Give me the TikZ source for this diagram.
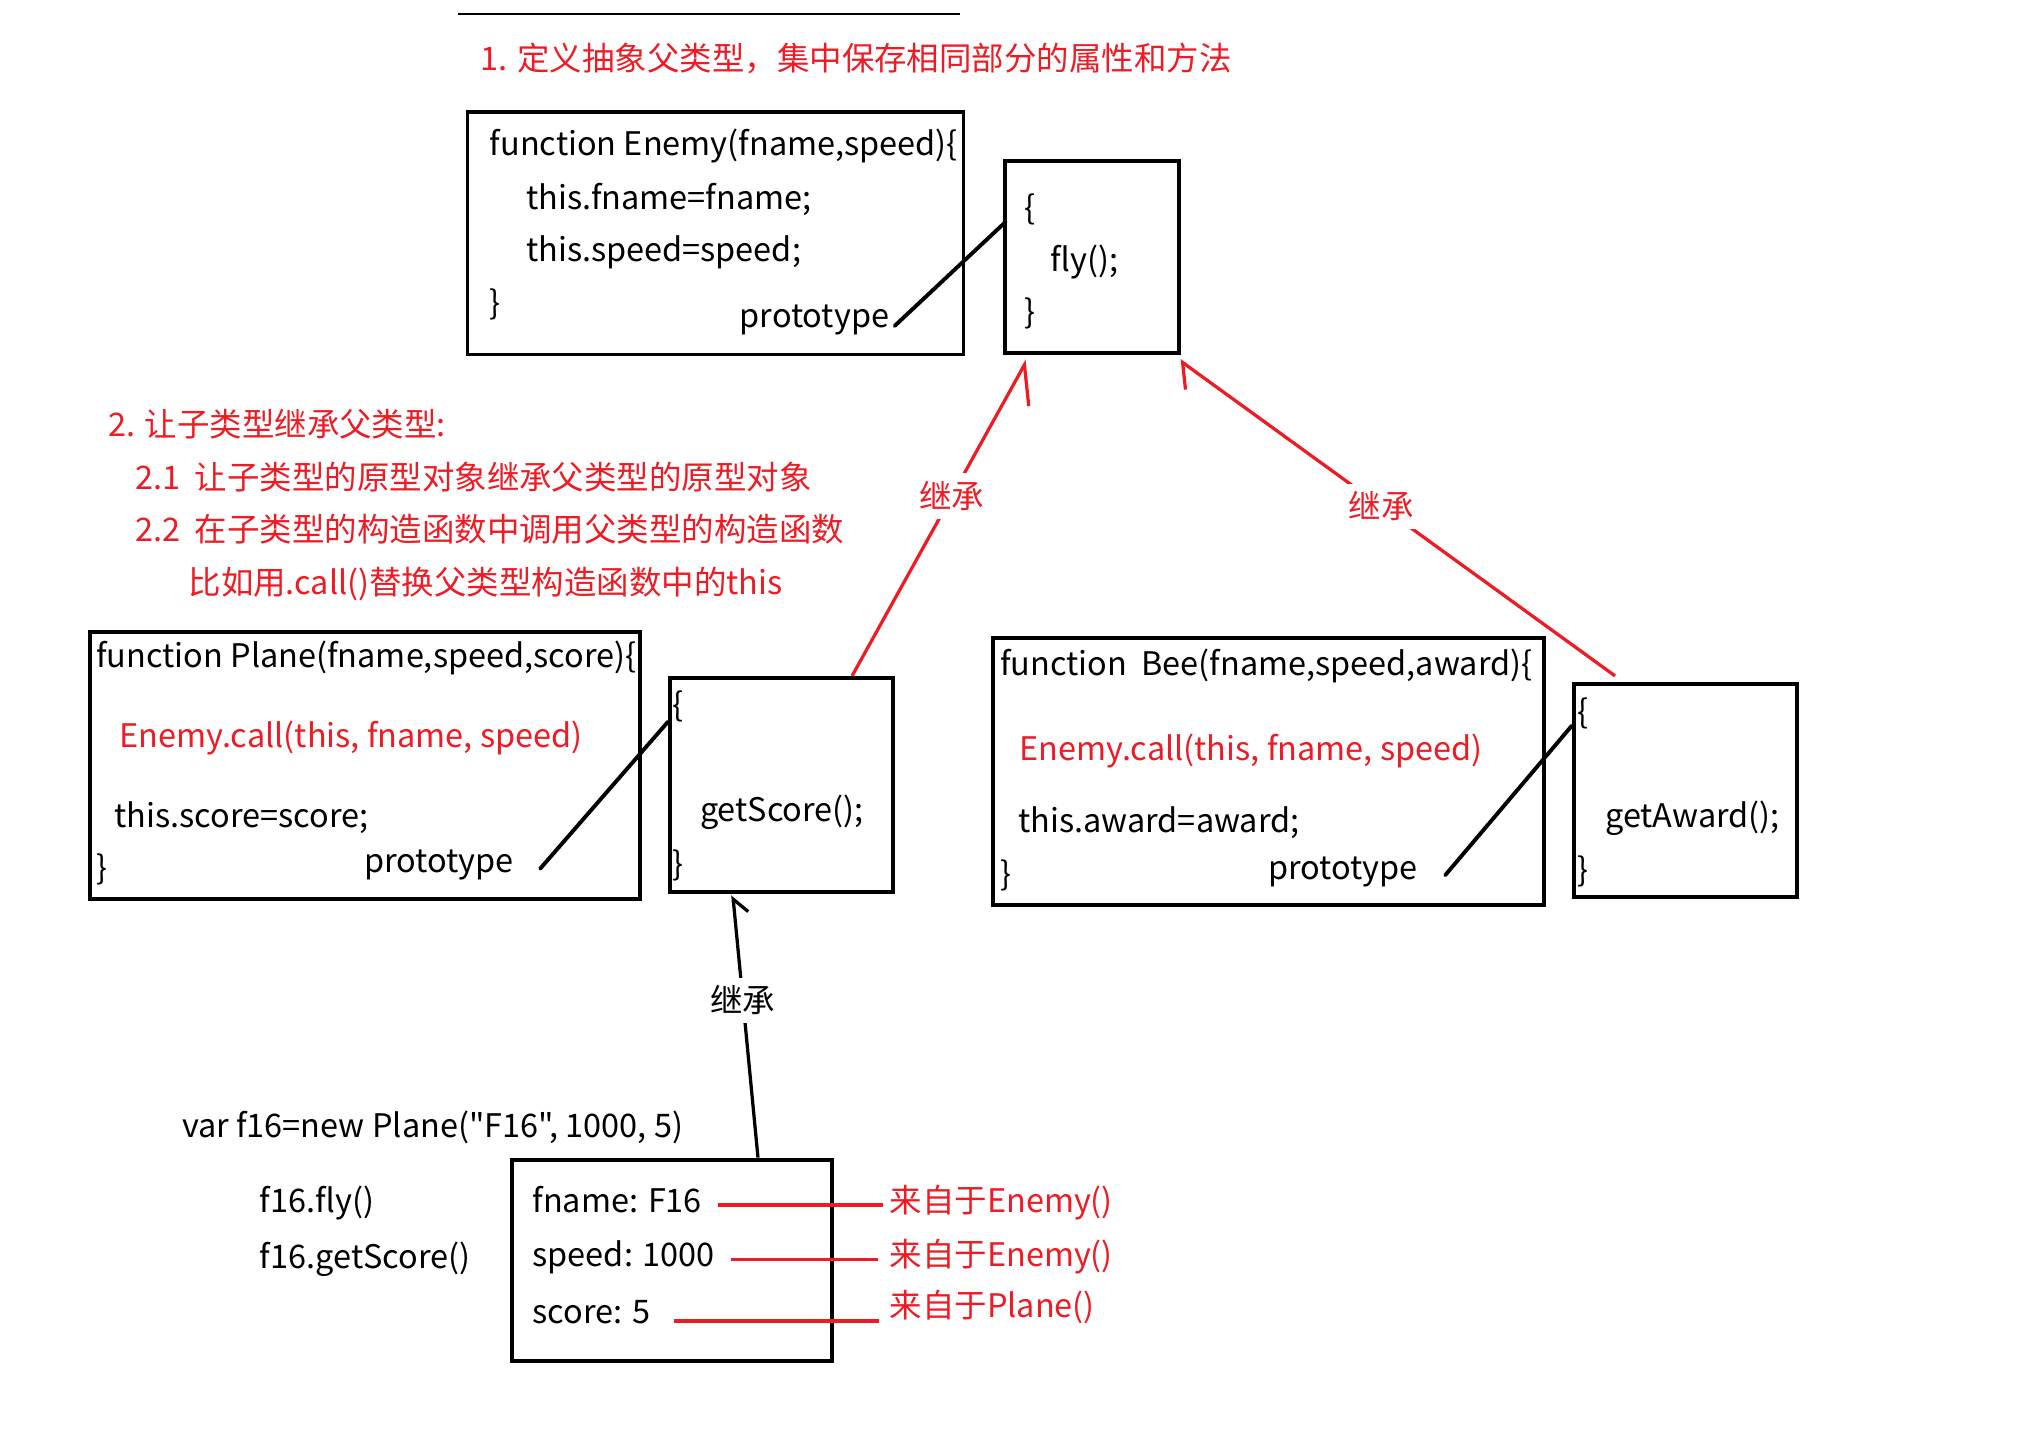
\documentclass[tikz,border=0pt]{standalone}
\usepackage{fontspec}
\setmainfont{Noto Sans CJK SC}[Ligatures=TeXOff]
\usetikzlibrary{arrows.meta,calc}
\definecolor{inkred}{RGB}{237,28,36}

\begin{document}
\begin{tikzpicture}[x=1pt,y=-1pt,
  txt/.style={anchor=west, inner sep=0pt, font=\fontsize{25}{30}\selectfont,
              text height=18pt, text depth=6pt, yshift=-3pt},
  rtxt/.style={txt, text=inkred},
  box/.style={draw=black, line width=3pt, inner sep=0pt},
  protoline/.style={draw=black, line width=3pt, line cap=round},
  inherit/.style={draw=inkred, line width=2.5pt},
  inheritlabel/.style={fill=white, inner sep=6pt, font=\fontsize{25}{30}\selectfont},
  fieldline/.style={draw=inkred, line width=3pt}]

\useasboundingbox (0,0) rectangle (1568,1104);

% rule above the heading
\draw[line width=1.5pt] (353,11) -- (739,11);

% ---------- parent type ----------
\node[rtxt] (title1) at (370,45) {1. 定义抽象父类型，集中保存相同部分的属性和方法};

\node[box, minimum width=382, minimum height=187] (enemy) at (551,179.5) {};
\node[txt] (e1) at (377,111) {function Enemy(fname,speed)\{};
\node[txt] (e2) at (405,152) {this.fname=fname;};
\node[txt] (e3) at (405,192) {this.speed=speed;};
\node[txt] (e4) at (377,233) {\}};
\node[txt, anchor=east] (protoE) at (685,243) {prototype};

\node[box, minimum width=134, minimum height=148] (fly) at (841,198) {};
\node[txt] (f1) at (789,160) {\{};
\node[txt] (f2) at (809,200) {fly();};
\node[txt] (f3) at (789,240) {\}};

\draw[protoline] ($(protoE.east)+(4,5)$) -- ($(fly.north west)!0.32!(fly.south west)+(2,0)$);

% ---------- explanation ----------
\node[rtxt] (title2) at (83,327) {2. 让子类型继承父类型:};
\node[rtxt] (title21) at (104,368) {2.1~~让子类型的原型对象继承父类型的原型对象};
\node[rtxt] (title22) at (104,408) {2.2~~在子类型的构造函数中调用父类型的构造函数};
\node[rtxt] (title23) at (145,449) {比如用.call()替换父类型构造函数中的this};

% ---------- Plane ----------
\node[box, minimum width=424, minimum height=205] (plane) at (281,589.5) {};
\node[txt] (p1) at (74,505) {function Plane(fname,speed,score)\{};
\node[rtxt] (p2) at (92,567) {Enemy.call(this, fname, speed)};
\node[txt] (p3) at (88,628) {this.score=score;};
\node[txt] (p4) at (74,668) {\}};
\node[txt, anchor=east] (protoP) at (396,663) {prototype};

\node[box, minimum width=172, minimum height=165] (getscore) at (602,604.5) {};
\node[txt] (g1) at (518,543) {\{};
\node[txt] (g2) at (539,624) {getScore();};
\node[txt] (g3) at (518,665) {\}};

\draw[protoline] ($(protoP.east)+(20,3)$) -- ($(getscore.north west)!0.21!(getscore.south west)$);

% ---------- Bee ----------
\node[box, minimum width=424, minimum height=206] (bee) at (977,594) {};
\node[txt] (b1) at (770,511) {function~~Bee(fname,speed,award)\{};
\node[rtxt] (b2) at (785,577) {Enemy.call(this, fname, speed)};
\node[txt] (b3) at (784,632) {this.award=award;};
\node[txt] (b4) at (770,673) {\}};
\node[txt, anchor=east] (protoB) at (1092,668) {prototype};

\node[box, minimum width=172, minimum height=164] (getaward) at (1298,609) {};
\node[txt] (a1) at (1215,548) {\{};
\node[txt] (a2) at (1236,628) {getAward();};
\node[txt] (a3) at (1215,670) {\}};

\draw[protoline] ($(protoB.east)+(21,3)$) -- ($(getaward.north west)!0.2!(getaward.south west)$);

% ---------- inheritance arrows ----------
\draw[inherit, -{Straight Barb[right, angle=70:32pt]}]
  ($(getscore.north west)!0.81!(getscore.north east)$) --
  node[pos=0.57, inheritlabel, text=inkred] (inh1) {继承}
  ($(fly.south west)!0.134!(fly.south east)+(0,4)$);

\draw[inherit, -{Straight Barb[left, angle=96:21pt]}]
  ($(getaward.north west)!0.19!(getaward.north east)+(0,-5)$) --
  node[pos=0.537, inheritlabel, text=inkred] (inh2) {继承}
  ($(fly.south east)+(-1,4)$);

% ---------- instance ----------
\node[txt] (newline) at (140,867) {var f16=new Plane("F16", 1000, 5)};
\node[txt] (call1) at (200,925) {f16.fly()};
\node[txt] (call2) at (200,968) {f16.getScore()};

\node[box, minimum width=247, minimum height=155] (obj) at (517.5,970.5) {};
\node[txt] (fname) at (410,925) {fname: F16};
\node[txt] (speed) at (410,966) {speed: 1000};
\node[txt] (score) at (410,1010) {score: 5};

\draw[draw=black, line width=2.5pt, -{Straight Barb[right, angle=90:15pt]}]
  ($(obj.north west)!0.765!(obj.north east)$) --
  node[pos=0.6, inheritlabel, text=black] (inh3) {继承}
  ($(getscore.south west)!0.285!(getscore.south east)+(0,1)$);

\node[rtxt] (src1) at (685,925) {来自于Enemy()};
\node[rtxt] (src2) at (685,966) {来自于Enemy()};
\node[rtxt] (src3) at (685,1006) {来自于Plane()};

\draw[fieldline] ($(fname.east)+(12,0)$) -- ($(src1.west)+(-5,0)$);
\draw[fieldline] ($(speed.east)+(12,1)$) -- ($(src2.west)+(-9,1)$);
\draw[fieldline] ($(score.east)+(18,4)$) -- ($(src3.west)+(-8,8)$);

\end{tikzpicture}
\end{document}
